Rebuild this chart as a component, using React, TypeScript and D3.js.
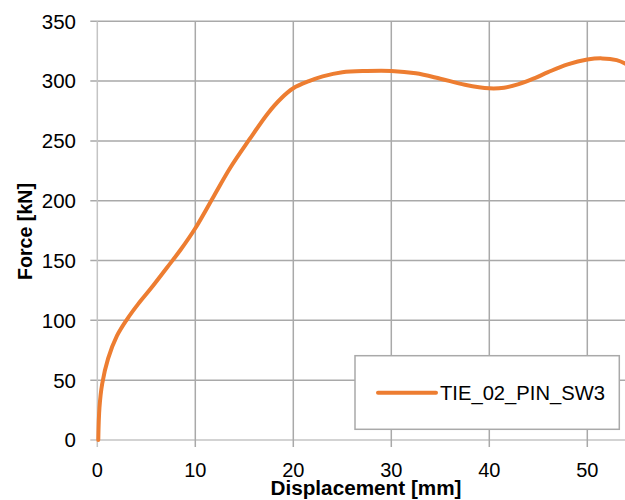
import React from "react";
import * as d3 from "d3";

const dispMm: number[] = [0.1, 0.22, 0.5, 1.1, 2, 3, 4.2, 5.5, 7.1, 8.5, 10, 11.9, 13.6, 15.5, 17.4, 18.75, 20, 21.6, 23, 25, 27.5, 30, 32.5, 35, 37.5, 40, 41.5, 43, 44.5, 46, 48, 50, 51.5, 53, 54];
const forceKN: number[] = [0, 27, 47, 68, 87, 100.5, 114, 127, 144, 159, 177, 204, 228, 251, 273, 285.5, 294, 300, 304, 307.5, 308.5, 308.5, 306.5, 302, 297, 294, 294.5, 297.5, 302, 307.5, 314, 318, 319, 317.5, 314];
const xTicks: number[] = [0, 10, 20, 30, 40, 50];
const yTicks: number[] = [0, 50, 100, 150, 200, 250, 300, 350];
const seriesName = "TIE_02_PIN_SW3";
const xTitle = "Displacement [mm]";
const yTitle = "Force [kN]";

const W = 625;
const H = 500;
const FONT = "'Liberation Sans', Arial, sans-serif";
const ORANGE = "#ED7D31";

export default function App() {
  const x = d3.scaleLinear().domain([0, 50]).range([97.3, 587.3]);
  const y = d3.scaleLinear().domain([0, 350]).range([440, 21.3]);
  const pts = dispMm.map((d, i) => [d, forceKN[i]] as [number, number]);
  const line = d3
    .line<[number, number]>()
    .x((d) => x(d[0]))
    .y((d) => y(d[1]))
    .curve(d3.curveCatmullRom.alpha(0.5));
  const x0 = x(0);
  const yTop = y(350);
  const y0 = y(0);

  return (
    <svg
      width={W}
      height={H}
      style={{ position: "absolute", left: 0, top: 0, background: "#fff" }}
    >
      <rect x={0} y={0} width={W} height={H} fill="#fff" />
      {yTicks.map((t) => (
        <line
          key={"hy" + t}
          x1={x0 - 7}
          x2={W}
          y1={y(t)}
          y2={y(t)}
          stroke={t === 0 ? "#c4c4c4" : "#a9a9a9"}
          strokeWidth={1.5}
        />
      ))}
      {xTicks.map((t) => (
        <line
          key={"vx" + t}
          x1={x(t)}
          x2={x(t)}
          y1={yTop}
          y2={y0 + 7}
          stroke={t === 0 ? "#c4c4c4" : "#a9a9a9"}
          strokeWidth={1.5}
        />
      ))}
      {yTicks.map((t) => (
        <text
          key={"yl" + t}
          x={76}
          y={y(t)}
          dy="0.36em"
          textAnchor="end"
          fontFamily={FONT}
          fontSize={20.5}
          fill="#000"
        >
          {t}
        </text>
      ))}
      {xTicks.map((t) => (
        <text
          key={"xl" + t}
          x={x(t)}
          y={477}
          textAnchor="middle"
          fontFamily={FONT}
          fontSize={20}
          fill="#000"
        >
          {t}
        </text>
      ))}
      <path
        d={line(pts) || ""}
        fill="none"
        stroke={ORANGE}
        strokeWidth={4}
        strokeLinejoin="round"
        strokeLinecap="round"
      />
      <rect
        x={355}
        y={355.7}
        width={264.3}
        height={73.6}
        fill="#fff"
        stroke="#a9a9a9"
        strokeWidth={1.5}
      />
      <line
        x1={378}
        x2={436}
        y1={392.7}
        y2={392.7}
        stroke={ORANGE}
        strokeWidth={4}
        strokeLinecap="round"
      />
      <text x={440} y={400} fontFamily={FONT} fontSize={20} fill="#000" textLength={165} lengthAdjust="spacingAndGlyphs">
        {seriesName}
      </text>
      <text
        x={366}
        y={495}
        textAnchor="middle"
        fontFamily={FONT}
        fontWeight="bold"
        fontSize={19.5}
        fill="#000"
        textLength={191}
        lengthAdjust="spacingAndGlyphs"
      >
        {xTitle}
      </text>
      <text
        transform={`translate(31.7,231.5) rotate(-90)`}
        x={0}
        y={0}
        textAnchor="middle"
        fontFamily={FONT}
        fontWeight="bold"
        fontSize={20}
        fill="#000"
        textLength={97}
        lengthAdjust="spacingAndGlyphs"
      >
        {yTitle}
      </text>
    </svg>
  );
}
